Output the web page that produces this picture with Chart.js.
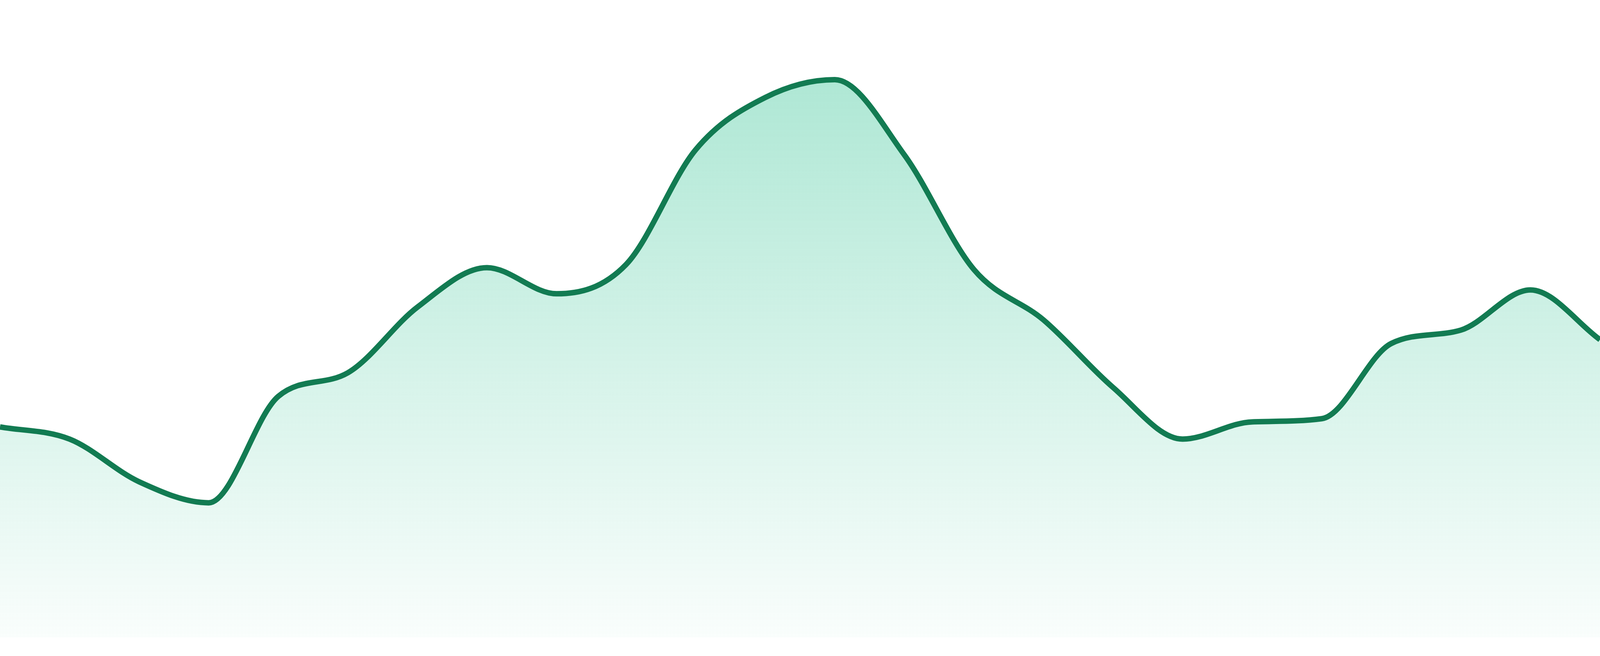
<!DOCTYPE html>
<html>
<head>
<meta charset="utf-8">
<script src="https://cdn.jsdelivr.net/npm/chart.js@4/dist/chart.umd.min.js"></script>
<style>
  html, body { margin: 0; padding: 0; background: #fff; overflow: hidden; }
  #wrap { width: 100vw; height: 100vh; position: relative; }
</style>
</head>
<body>
<div id="wrap"><canvas id="trendChart"></canvas></div>
<script>
// one point per day, no labels shown in the picture
const days = ['1', '2', '3', '4', '5', '6', '7', '8', '9', '10', '11', '12',
  '13', '14', '15', '16', '17', '18', '19', '20', '21', '22', '23', '24'];
const values = [33.0, 31.1, 24.4, 21.1, 37.8, 41.5, 51.8, 58.0, 53.9, 58.5, 76.5, 84.7,
  87.5, 75.7, 57.7, 49.8, 39.2, 31.1, 33.8, 34.3, 46.1, 48.2, 54.5, 46.7];
const yMin = 0;
const yMax = 100;

const lineColor = '#127b52';
const k = window.innerHeight / 1680;

new Chart(document.getElementById('trendChart'), {
  type: 'line',
  data: {
    labels: days,
    datasets: [{
      data: values,
      borderColor: lineColor,
      borderWidth: 14 * k,
      pointRadius: 0,
      cubicInterpolationMode: 'monotone',
      fill: 'start',
      backgroundColor: ctx => {
        const area = ctx.chart.chartArea;
        if (!area) return 'rgba(16,185,129,0.2)';
        const g = ctx.chart.ctx.createLinearGradient(0, area.top, 0, area.bottom);
        g.addColorStop(0, 'rgba(16,185,129,0.38)');
        g.addColorStop(1, 'rgba(16,185,129,0.025)');
        return g;
      }
    }]
  },
  options: {
    responsive: true,
    maintainAspectRatio: false,
    animation: false,
    layout: { padding: { top: 0, left: 0, right: 0, bottom: 48 * k } },
    plugins: { legend: { display: false }, tooltip: { enabled: false } },
    scales: {
      x: { display: false },
      y: { display: false, min: yMin, max: yMax }
    }
  }
});
</script>
</body>
</html>
